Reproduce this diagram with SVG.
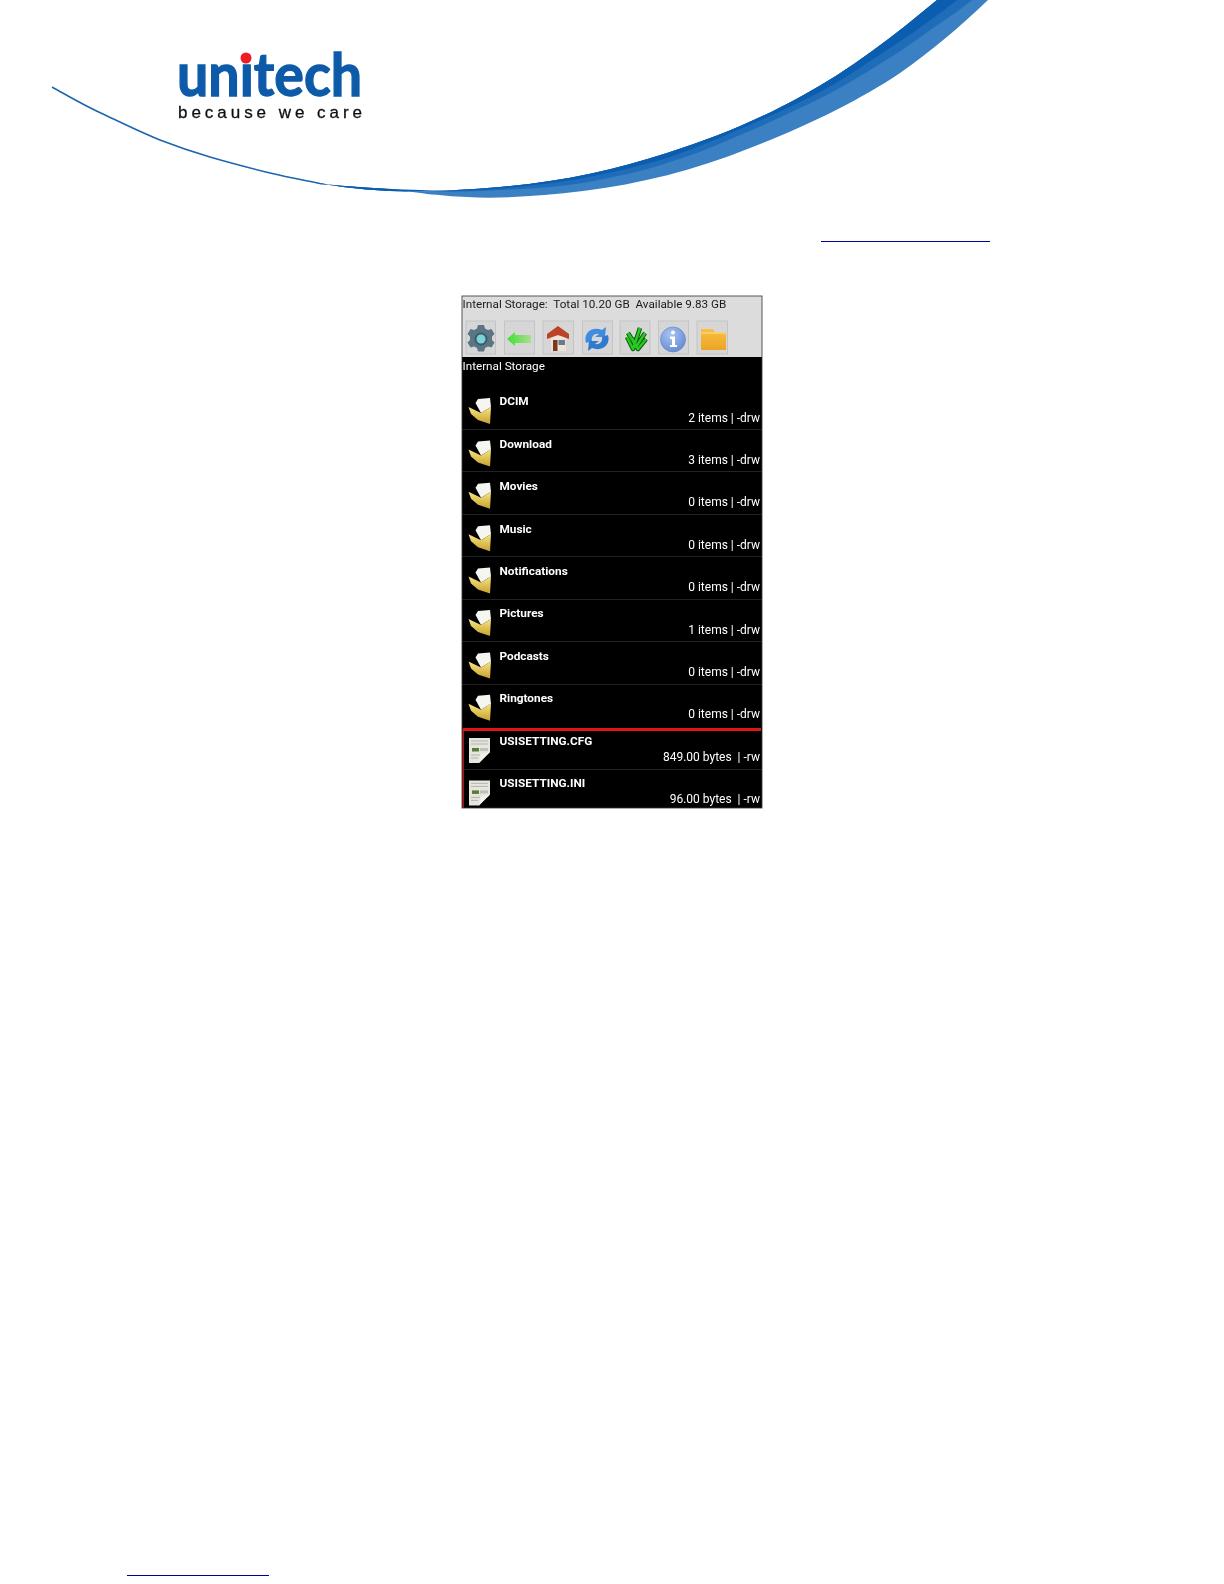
<svg xmlns="http://www.w3.org/2000/svg" width="1224" height="1584" viewBox="0 0 1224 1584">
<style>
.t{font-family:Roboto,"Liberation Sans",sans-serif;fill:#fff}
.name{font-size:11.800px;font-weight:700}
.info{font-size:12px;text-anchor:end}
.bar{font-family:Roboto,"Liberation Sans",sans-serif;font-size:11.700px;fill:#1a1a1a}
.btn{fill:#d6d6d6;stroke:#c4c4c4}
.sep{stroke:#222;stroke-width:1}
.link{stroke:#0000a0;stroke-width:1}
</style>
<defs>
<filter id="soft" x="-2%" y="-2%" width="104%" height="104%"><feGaussianBlur stdDeviation="0.35"/></filter>
<linearGradient id="fy" x1="0" y1="0" x2="0" y2="1"><stop offset="0" stop-color="#f8e680"/><stop offset="1" stop-color="#c8a030"/></linearGradient>
<linearGradient id="or" x1="0" y1="0" x2="0" y2="1"><stop offset="0" stop-color="#f8c040"/><stop offset="1" stop-color="#eca426"/></linearGradient>
<linearGradient id="gr" x1="0" y1="0" x2="1" y2="0"><stop offset="0" stop-color="#3fe030"/><stop offset="1" stop-color="#a8e090"/></linearGradient>
<radialGradient id="bl" cx=".4" cy=".3" r=".8"><stop offset="0" stop-color="#a8c4f0"/><stop offset="1" stop-color="#5f86d0"/></radialGradient>
<g id="folder">
<path d="M475.500 403L478 399L490 398L491 407L481 413Z" fill="#f6f6f0"/>
<path d="M468.500 407L481 413L491 407L490 424L478 420L471 414Z" fill="url(#fy)"/>
</g>
<g id="file">
<path d="M469 738H490V752L479 763H469Z" fill="#e6e6de"/>
<path d="M479 763L490 752L481 754Z" fill="#f4f4ee"/>
<path d="M471 741H488M471 744H488M471 755H480M471 758H478" stroke="#b4b4ac" stroke-width="1"/>
<rect x="472" y="748" width="7" height="3.500" fill="#5a7a38"/>
<rect x="480" y="748" width="8" height="3" fill="#c0c0b8"/>
</g>
</defs>
<rect width="1224" height="1584" fill="#fff"/>

<g id="swoosh">
<path d="M52 87C70 97 85 106 103 114C122 123 140 132 160 140C178 147 193 152 210 157C230 163 250 168 270 173C287 177 303 180 320 183.500" fill="none" stroke="#1b65b0" stroke-width="1.500"/>
<path d="M320 183C380 195 440 192 500 187C560 182 615 170 667 153C715 138 760 119 800 97C850 70 895 35 937 0H988C960 27 930 52 900 73C860 100 805 127 750 148C695 170 640 184 583 191C540 196 500 199 467 197C440 196 410 192 400 190C380 188 330 185 320 184.500Z" fill="#3b80c2"/>
<path d="M320 183C380 195 440 192 500 187C560 182 615 170 667 153C715 138 760 119 800 97C850 70 895 35 937 0H972C960 10 945 20 933 28C910 45 890 58 867 72C845 85 825 97 800 108C775 120 755 129 733 138C710 148 690 156 667 163C640 172 610 178 583 183C555 187 530 189 500 190C470 192 440 192 420 191C380 189 330 185 320 184Z" fill="#1f6cb8"/>
<path d="M320 183C380 195 440 192 500 187C560 182 615 170 667 153C715 138 760 119 800 97C850 70 895 35 937 0H957C925 25 895 45 867 63C845 78 825 90 800 102C775 114 755 123 733 132C710 142 690 150 667 158C640 166 610 173 583 178C555 183 530 186 500 188.500C470 191 440 191 420 190C380 189 330 185 320 183.500Z" fill="#0b5db0"/>
</g>

<g id="logo" filter="url(#soft)">
<text x="177" y="96" font-family="Lato,'Open Sans',sans-serif" font-size="59" font-weight="700" fill="#0b5aa8" stroke="#0b5aa8" stroke-width="1.300" textLength="185" lengthAdjust="spacingAndGlyphs">unitech</text>
<rect x="239" y="46" width="13" height="18" fill="#fff"/>
<circle cx="246" cy="58" r="5.500" fill="#ee1c25"/>
<text x="178" y="118" font-family="'Liberation Sans',sans-serif" font-size="17" fill="#111" stroke="#111" stroke-width=".3" textLength="184" lengthAdjust="spacing">because we care</text>
</g>

<g id="links">
<line class="link" x1="821" y1="241.500" x2="990" y2="241.500"/>
<line class="link" x1="127" y1="1575.500" x2="269" y2="1575.500"/>
</g>

<g id="screen" filter="url(#soft)">
<rect x="462" y="296" width="300" height="512" fill="#000"/>
<rect x="462" y="296" width="300" height="61" fill="#dcdcdc"/>
<text id="storage-info" class="bar" x="462.500" y="308" xml:space="preserve">Internal Storage:  Total 10.20 GB  Available 9.83 GB</text>

<g id="btn-settings"><rect class="btn" x="466" y="321" width="29.500" height="33"/>
<path d="M478 325h6l1 3.500 3 1.500 3.500-1 3 5-2.500 2.500v3.500l2.500 2.500-3 5-3.500-1-3 1.500-1 3.500h-6l-1-3.500-3-1.500-3.500 1-3-5 2.500-2.500v-3.500l-2.500-2.500 3-5 3.500 1 3-1.500z" fill="#5a7684"/>
<circle cx="481" cy="339" r="6.500" fill="#3f5a68"/><circle cx="481" cy="339" r="4.500" fill="#78d4d8"/></g>

<g id="btn-back"><rect class="btn" x="504.500" y="321" width="30" height="33"/>
<path d="M507 339L515 332V335H531V343H515V346Z" fill="url(#gr)"/></g>

<g id="btn-home"><rect class="btn" x="543" y="321" width="30.500" height="33"/>
<rect x="551" y="336" width="15" height="15" fill="#ece4d8"/>
<path d="M547 339V334L558 326L569 334V339L558 335Z" fill="#bb4228"/>
<rect x="553" y="340" width="4.500" height="11" fill="#7a3a1c"/><rect x="558.500" y="340" width="6.500" height="5" fill="#6a7c8c"/></g>

<g id="btn-refresh"><rect class="btn" x="582.500" y="321" width="30" height="33"/>
<path d="M586 343C583 333 592 326 602 330L606 327L605 337L595 337L599 334C594 333 591 337 592 341Z" fill="#3f8ae0"/>
<path d="M608 335C611 345 602 352 592 348L588 351L589 341L599 341L595 344C600 345 603 341 602 337Z" fill="#2f7ad0"/></g>

<g id="btn-check"><rect class="btn" x="620" y="321" width="30" height="33"/>
<path d="M627 337L633 349L640 328M632 338L636 347L645 333M628 333L638 349L646 339" fill="none" stroke="#0c5a0c" stroke-width="4.500" stroke-linejoin="round"/>
<path d="M627 337L633 349L640 328M632 338L636 347L645 333M628 333L638 349L646 339" fill="none" stroke="#2cc824" stroke-width="2.500" stroke-linejoin="round"/></g>

<g id="btn-info"><rect class="btn" x="658.500" y="321" width="30" height="33"/>
<circle cx="673" cy="339.500" r="12.500" fill="url(#bl)" stroke="#5f80c8" stroke-width=".6"/>
<circle cx="673" cy="332.500" r="2" fill="#fff"/><path d="M670 336.500H675V345H677V347H670V345H672V339H670Z" fill="#fff"/></g>

<g id="btn-folder"><rect class="btn" x="697" y="321" width="30.500" height="33"/>
<path d="M701 329H713L715 332H726V350H701Z" fill="url(#or)"/><path d="M701 333H726" stroke="#fbe2a0" stroke-width="1"/></g>

<text class="t" id="path-label" x="462.500" y="370" font-size="11.700">Internal Storage</text>

<g id="row-dcim"><use href="#folder"/><text class="t name" x="499.500" y="405.400">DCIM</text><text class="t info" x="760" y="421.500">2 items | -drw</text></g>
<line class="sep" x1="462" y1="429.500" x2="762" y2="429.500"/>
<g id="row-download" transform="translate(0 42.400)"><use href="#folder"/><text class="t name" x="499.500" y="405.400">Download</text><text class="t info" x="760" y="421.500">3 items | -drw</text></g>
<line class="sep" x1="462" y1="471.500" x2="762" y2="471.500"/>
<g id="row-movies" transform="translate(0 84.800)"><use href="#folder"/><text class="t name" x="499.500" y="405.400">Movies</text><text class="t info" x="760" y="421.500">0 items | -drw</text></g>
<line class="sep" x1="462" y1="514.500" x2="762" y2="514.500"/>
<g id="row-music" transform="translate(0 127.200)"><use href="#folder"/><text class="t name" x="499.500" y="405.400">Music</text><text class="t info" x="760" y="421.500">0 items | -drw</text></g>
<line class="sep" x1="462" y1="556.500" x2="762" y2="556.500"/>
<g id="row-notifications" transform="translate(0 169.600)"><use href="#folder"/><text class="t name" x="499.500" y="405.400">Notifications</text><text class="t info" x="760" y="421.500">0 items | -drw</text></g>
<line class="sep" x1="462" y1="599.500" x2="762" y2="599.500"/>
<g id="row-pictures" transform="translate(0 212)"><use href="#folder"/><text class="t name" x="499.500" y="405.400">Pictures</text><text class="t info" x="760" y="421.500">1 items | -drw</text></g>
<line class="sep" x1="462" y1="641.500" x2="762" y2="641.500"/>
<g id="row-podcasts" transform="translate(0 254.400)"><use href="#folder"/><text class="t name" x="499.500" y="405.400">Podcasts</text><text class="t info" x="760" y="421.500">0 items | -drw</text></g>
<line class="sep" x1="462" y1="684.500" x2="762" y2="684.500"/>
<g id="row-ringtones" transform="translate(0 296.800)"><use href="#folder"/><text class="t name" x="499.500" y="405.400">Ringtones</text><text class="t info" x="760" y="421.500">0 items | -drw</text></g>

<g id="row-cfg"><use href="#file"/><text class="t name" x="499.500" y="744.700">USISETTING.CFG</text><text class="t info" x="760" y="761" xml:space="preserve">849.00 bytes  | -rw</text></g>
<line class="sep" x1="462" y1="769.500" x2="762" y2="769.500"/>
<g id="row-ini" transform="translate(0 42.400)"><use href="#file"/><text class="t name" x="499.500" y="744.700">USISETTING.INI</text><text class="t info" x="760" y="761" xml:space="preserve">96.00 bytes  | -rw</text></g>

<line x1="463" y1="729" x2="463" y2="808" stroke="#d81818" stroke-width="1.500"/>
<line x1="463" y1="729.500" x2="761" y2="729.500" stroke="#e01414" stroke-width="3"/>
<rect x="462" y="296" width="300" height="512" fill="none" stroke="#333" stroke-width=".8"/>
</g>
</svg>
